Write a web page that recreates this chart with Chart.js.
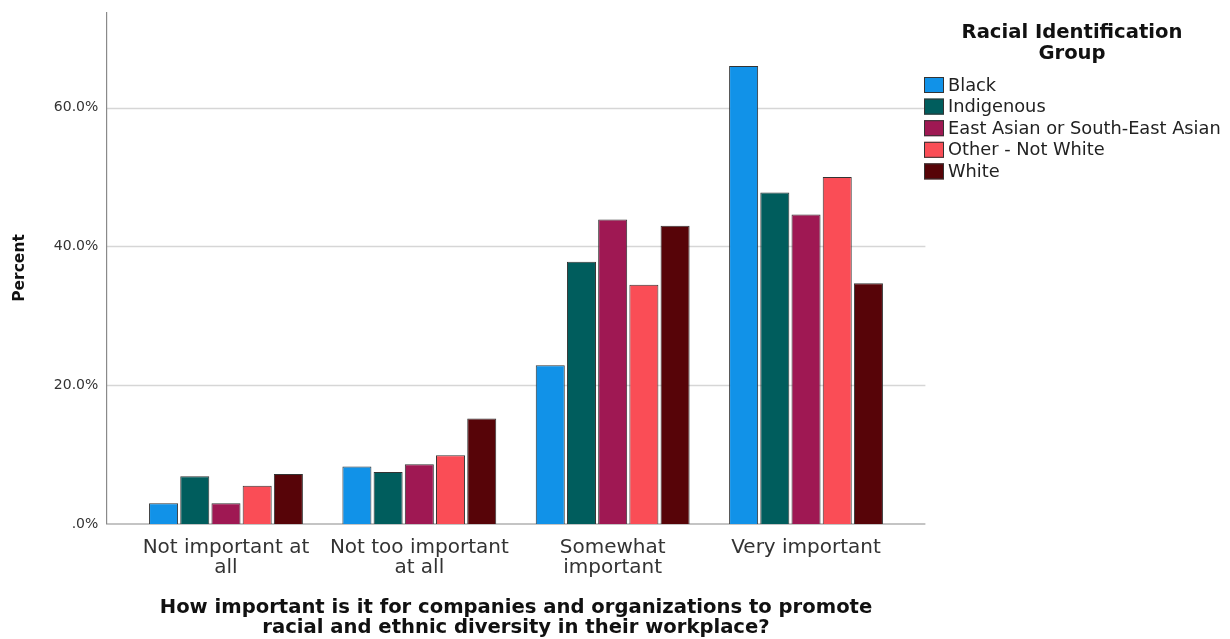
<!DOCTYPE html>
<html>
<head>
<meta charset="utf-8">
<script src="https://cdn.jsdelivr.net/npm/chart.js@4.4.1/dist/chart.umd.min.js"></script>
<style>
  html, body { margin: 0; padding: 0; background: #ffffff; }
  #wrap { width: 1230px; height: 639px; }
</style>
</head>
<body>
<div id="wrap"><canvas id="c" width="1230" height="639"></canvas></div>
<script>
// ---- data ----
const categories = [
  ['Not important at', 'all'],
  ['Not too important', 'at all'],
  ['Somewhat', 'important'],
  ['Very important']
];
const seriesNames = ['Black', 'Indigenous', 'East Asian or South-East Asian', 'Other - Not White', 'White'];
const black      = [3.0, 8.3, 22.9, 66.0];
const indigenous = [6.9, 7.5, 37.8, 47.8];
const eastAsian  = [3.0, 8.6, 43.9, 44.6];
const otherNW    = [5.5, 9.9, 34.5, 50.0];
const white      = [7.2, 15.2, 43.0, 34.7];
const yTickValues = [0, 20, 40, 60];
const legendTitle = ['Racial Identification', 'Group'];
const xTitle = ['How important is it for companies and organizations to promote', 'racial and ethnic diversity in their workplace?'];
const yTitle = 'Percent';

// ---- styles ----
const colors = ['#1192e8', '#005d5d', '#9f1853', '#fa4d56', '#570408'];
const EXT = 22.7;          // axis extension beyond category band
const FONT = '"DejaVu Sans", sans-serif';

const seriesValues = [black, indigenous, eastAsian, otherNW, white];

const framePlugin = {
  id: 'frame',
  beforeDatasetsDraw(chart) {
    const { ctx, chartArea } = chart;
    const y = chart.scales.y;
    const L = chartArea.left - EXT, R = chartArea.right + EXT;
    ctx.save();
    ctx.strokeStyle = '#d6d6d6';
    ctx.lineWidth = 1.5;
    yTickValues.forEach(v => {
      if (v === 0) return;
      const py = Math.round(y.getPixelForValue(v)) + 0.5;
      ctx.beginPath(); ctx.moveTo(L, py); ctx.lineTo(R, py); ctx.stroke();
    });
    ctx.strokeStyle = '#8a8a8a';
    ctx.lineWidth = 1.2;
    const by = y.getPixelForValue(0);
    ctx.beginPath();
    ctx.moveTo(L, chartArea.top);
    ctx.lineTo(L, by);
    ctx.lineTo(R, by);
    ctx.stroke();
    ctx.restore();
  }
};

const legendPlugin = {
  id: 'customLegend',
  afterDraw(chart) {
    const { ctx } = chart;
    ctx.save();
    ctx.fillStyle = '#111';
    ctx.font = 'bold 19.6px ' + FONT;
    ctx.textAlign = 'center';
    ctx.textBaseline = 'middle';
    ctx.fillText(legendTitle[0], 1072, 33);
    ctx.fillText(legendTitle[1], 1072, 54);
    ctx.font = '17.8px ' + FONT;
    ctx.textAlign = 'left';
    chart.data.datasets.forEach((ds, i) => {
      const cy = 85 + i * 21.6;
      ctx.fillStyle = ds.backgroundColor;
      ctx.fillRect(924, cy - 8, 20, 16);
      ctx.strokeStyle = '#333';
      ctx.lineWidth = 1;
      ctx.strokeRect(924.5, cy - 7.5, 19, 15);
      ctx.fillStyle = '#222';
      ctx.fillText(ds.label, 948, cy + 1);
    });
    ctx.restore();
  }
};

new Chart(document.getElementById('c'), {
  type: 'bar',
  data: {
    labels: categories,
    datasets: seriesNames.map((name, i) => ({
      label: name,
      data: seriesValues[i],
      backgroundColor: colors[i],
      borderColor: '#333333',
      borderWidth: 1,
      borderSkipped: 'start',
      categoryPercentage: 0.807,
      barPercentage: 0.93
    }))
  },
  options: {
    responsive: false,
    animation: false,
    devicePixelRatio: 1,
    layout: { padding: { left: 0, right: 327.3, top: 12, bottom: 0 } },
    plugins: {
      legend: { display: false },
      tooltip: { enabled: false }
    },
    scales: {
      x: {
        offset: true,
        grid: { display: false, drawTicks: false },
        border: { display: false },
        ticks: {
          color: '#333',
          padding: 14,
          maxRotation: 0,
          autoSkip: false,
          font: { family: FONT, size: 20, lineHeight: 1.0 }
        },
        title: {
          display: true,
          text: xTitle,
          color: '#111',
          font: { family: FONT, size: 19.6, weight: 'bold', lineHeight: 1.02 },
          padding: { top: 0, bottom: 1 }
        },
        afterFit(scale) { scale.height = 115; }
      },
      y: {
        min: 0,
        max: 73.8,
        grid: { display: false, drawTicks: false },
        border: { display: false },
        ticks: {
          stepSize: 20,
          includeBounds: false,
          color: '#333',
          padding: 31,
          font: { family: FONT, size: 14 },
          callback: v => (v === 0 ? '.0%' : v.toFixed(1) + '%')
        },
        title: {
          display: true,
          text: yTitle,
          color: '#111',
          font: { family: FONT, size: 15.5, weight: 'bold', lineHeight: 1.2 },
          padding: { top: 11, bottom: 0 }
        },
        afterFit(scale) {
          scale.width = 129.3;
          scale.paddingTop = 0;
          scale.paddingBottom = 0;
        }
      }
    }
  },
  plugins: [framePlugin, legendPlugin]
});
</script>
</body>
</html>
